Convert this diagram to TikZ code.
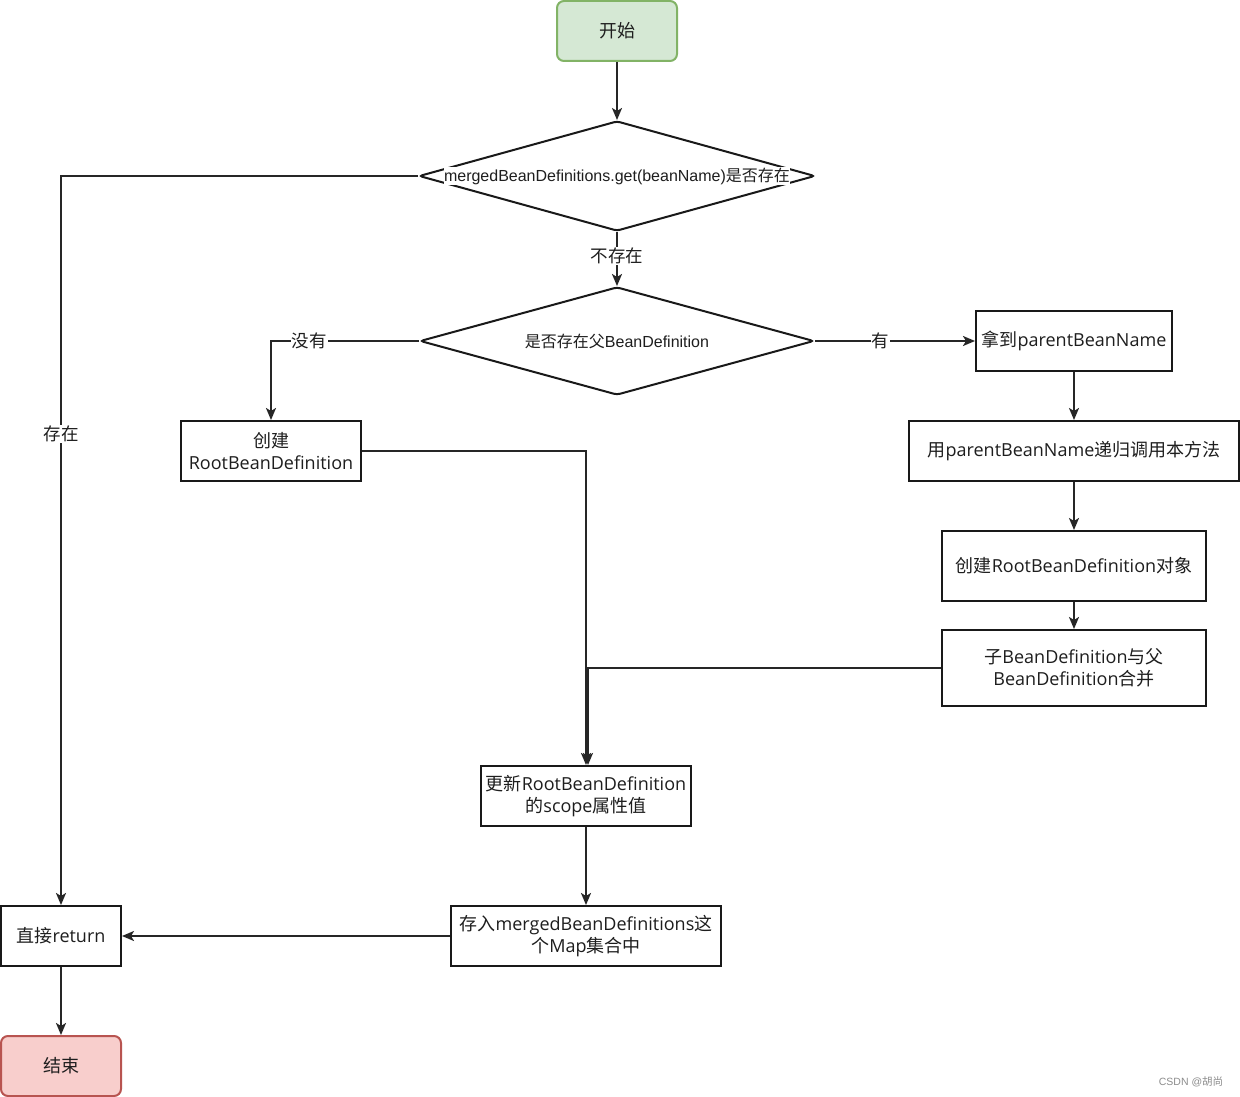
\documentclass[tikz,border=0pt]{standalone}
\usepackage{fontspec}
\setmainfont{Open Sans}
\newfontfamily\cjk{Noto Sans CJK SC}
\newfontfamily\arialf{Liberation Sans}
\usetikzlibrary{shapes.geometric,arrows.meta}
\definecolor{txt}{HTML}{1E1E1E}
\definecolor{startfill}{HTML}{D5E8D4}
\definecolor{startdraw}{HTML}{82B366}
\definecolor{endfill}{HTML}{F8CECC}
\definecolor{enddraw}{HTML}{B85450}
\tikzset{
  boxnode/.style={draw=black!90, line width=2pt, fill=white, inner sep=2pt, align=center,
    text=txt, font=\fontsize{18}{22}\selectfont},
  termnode/.style={rounded corners=7pt, line width=2pt, inner sep=2pt, align=center,
    text=txt, font=\fontsize{18}{22}\selectfont},
  dianode/.style={diamond, draw=black!90, line width=2pt, fill=white, inner sep=0pt, rounded corners=3pt},
  diatext/.style={inner sep=0.5pt, fill=white, text=txt, font=\arialf\fontsize{16}{20}\selectfont},
  lbl/.style={fill=white, inner sep=1pt, text=txt, font=\cjk\fontsize{17.5}{22}\selectfont},
  arr/.style={draw=black!85, line width=2pt, -{Stealth[length=12pt,width=10pt,inset=3pt]}},
}
\begin{document}
\begin{tikzpicture}[x=1pt,y=-1pt]
\useasboundingbox[fill=white] (0,0) rectangle (1240,1097);

\node[termnode, draw=startdraw, fill=startfill, minimum width=120, minimum height=60] (start) at (617,31) {{\cjk 开始}};

\node[dianode, minimum width=396, minimum height=110] (d1) at (617,176) {};
\node[diatext] (d1t) at (d1) {mergedBeanDefinitions.get(beanName){\cjk 是否存在}};

\node[dianode, minimum width=394, minimum height=108] (d2) at (617,341) {};
\node[diatext] (d2t) at (d2) {{\cjk 是否存在父}BeanDefinition};

\node[boxnode, minimum width=196, minimum height=60] (get) at (1074,341) {{\cjk 拿到}parentBeanName};
\node[boxnode, minimum width=330, minimum height=60] (rec) at (1074,451) {{\cjk 用}parentBeanName{\cjk 递归调用本方法}};
\node[boxnode, minimum width=264, minimum height=70] (mk) at (1074,566) {{\cjk 创建}RootBeanDefinition{\cjk 对象}};
\node[boxnode, minimum width=264, minimum height=76] (merge) at (1074,668) {{\cjk 子}BeanDefinition{\cjk 与父}\\BeanDefinition{\cjk 合并}};

\node[boxnode, minimum width=180, minimum height=60] (c1) at (271,451) {{\cjk 创建}\\RootBeanDefinition};
\node[boxnode, minimum width=210, minimum height=60] (upd) at (586,796) {{\cjk 更新}RootBeanDefinition\\{\cjk 的}scope{\cjk 属性值}};
\node[boxnode, minimum width=270, minimum height=60] (store) at (586,936) {{\cjk 存入}mergedBeanDefinitions{\cjk 这}\\{\cjk 个}Map{\cjk 集合中}};
\node[boxnode, minimum width=120, minimum height=60] (ret) at (61,936) {{\cjk 直接}return};
\node[termnode, draw=enddraw, fill=endfill, minimum width=120, minimum height=60] (end) at (61,1066) {{\cjk 结束}};

\draw[arr] (start) -- (d1);
\draw[arr] (d1) -- node[lbl, pos=0.45] (l1) {不存在} (d2);
\draw[arr] (d2.west) -| node[lbl, pos=0.37] (l2) {没有} (c1.north);
\draw[arr] (d2.east) -- node[lbl, pos=0.41] (l3) {有} (get.west);
\draw[arr] (get) -- (rec);
\draw[arr] (rec) -- (mk);
\draw[arr] (mk) -- (merge);
\draw[arr] (c1.east) -| (upd.north);
\draw[arr] (merge.west) -| ([xshift=2pt]upd.north);
\draw[arr] (d1.west) -| node[lbl, pos=0.677] (l4) {存在} (ret.north);
\draw[arr] (upd) -- (store);
\draw[arr] (store) -- (ret);
\draw[arr] (ret) -- (end);

\node[text=black!45, font=\arialf\fontsize{10.5}{12}\selectfont, inner sep=0pt] (wm) at (1191,1082) {CSDN @{\cjk 胡尚}};
\end{tikzpicture}
\end{document}
